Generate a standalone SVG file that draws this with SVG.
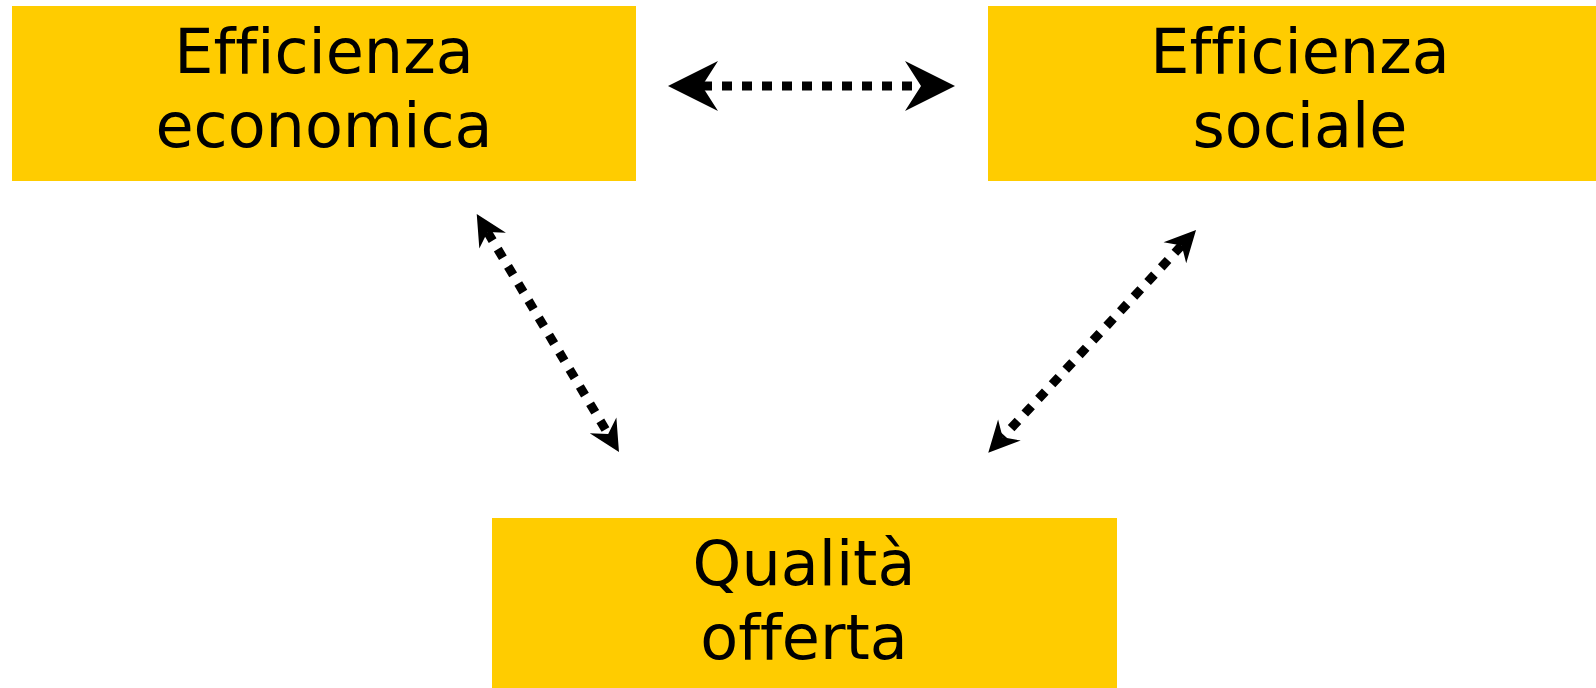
<svg xmlns="http://www.w3.org/2000/svg" width="1596" height="688" viewBox="0 0 1596 688">
<style>
.box{fill:#FFCC00;}
.lbl{font-family:"DejaVu Sans","Open Sans",sans-serif;font-size:62px;fill:#000;text-anchor:middle;font-variant-ligatures:none;font-feature-settings:"liga" 0;}
.con{fill:none;stroke:#000;stroke-width:9;stroke-dasharray:10 10;}
</style>
<defs>
<marker id="big" markerUnits="userSpaceOnUse" markerWidth="50" markerHeight="50" refX="16" refY="25" orient="auto-start-reverse" overflow="visible">
<path d="M0,0 L50,25 L0,50 L16,25 Z" fill="#000"/>
</marker>
<marker id="small" markerUnits="userSpaceOnUse" markerWidth="31" markerHeight="31" refX="10" refY="15.5" orient="auto-start-reverse" overflow="visible">
<path d="M0,0 L31,15.5 L0,31 L10,15.5 Z" fill="#000"/>
</marker>
</defs>
<rect width="1596" height="688" fill="#fff"/>
<g id="n1">
<rect class="box" x="12" y="6" width="624" height="175"/>
<text class="lbl" x="324" y="73">Efficienza</text>
<text class="lbl" x="324" y="147">economica</text>
</g>
<g id="n2">
<rect class="box" x="988" y="6" width="624" height="175"/>
<text class="lbl" x="1300" y="73">Efficienza</text>
<text class="lbl" x="1300" y="147">sociale</text>
</g>
<g id="n3">
<rect class="box" x="492" y="518" width="625" height="170"/>
<text class="lbl" x="804" y="585">Qualità</text>
<text class="lbl" x="804" y="659">offerta</text>
</g>
<g id="connectors">
<line class="con" x1="702" y1="86" x2="921" y2="86" marker-start="url(#big)" marker-end="url(#big)"/>
<line class="con" x1="487.5" y1="232" x2="608.2" y2="434" marker-start="url(#small)" marker-end="url(#small)"/>
<line class="con" x1="1181.7" y1="245.4" x2="1002.6" y2="437.3" marker-start="url(#small)" marker-end="url(#small)"/>
</g>
</svg>
